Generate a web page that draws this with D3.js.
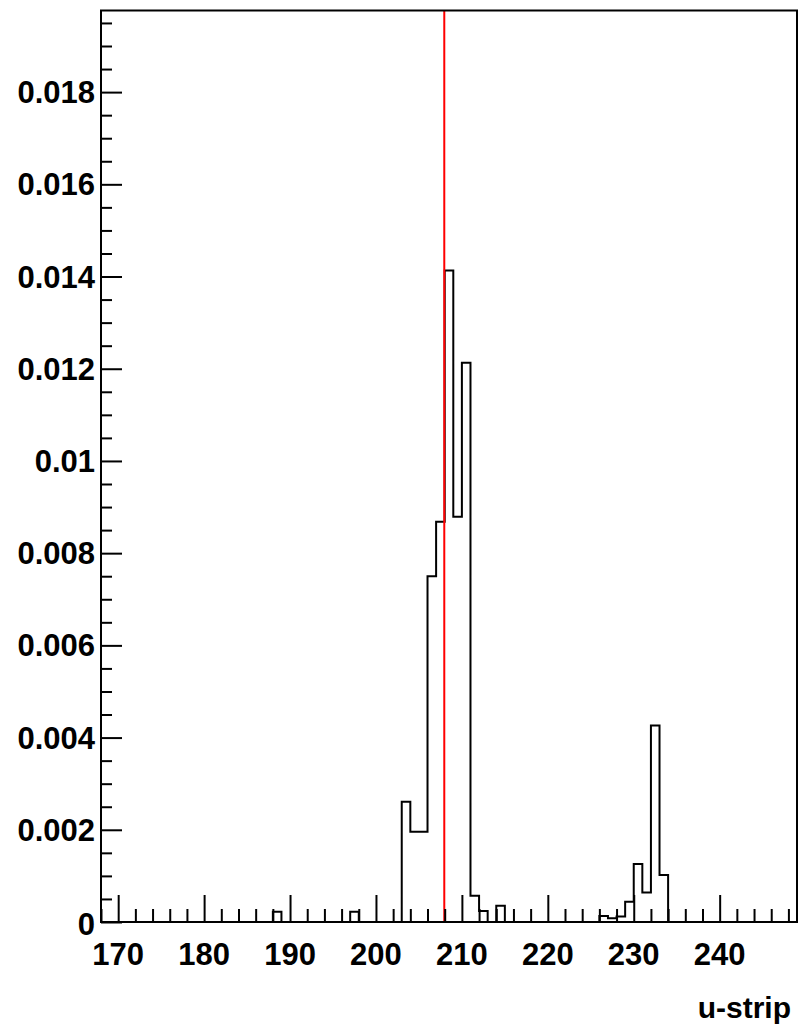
<!DOCTYPE html>
<html>
<head>
<meta charset="utf-8">
<script src="https://cdn.jsdelivr.net/npm/d3@7"></script>
<style>
  body { margin: 0; background: #fff; }
  svg { display: block; }
  text { font-family: "Liberation Sans", Arial, sans-serif; font-weight: bold; fill: #000; }
</style>
</head>
<body>
<div id="chart"></div>
<script>
// u-strip histogram, bins of width 1 from 168 to 249
const binLow = 168
const binHigh = 249
// filled bins: strip number -> content
const strips = [188, 197, 203, 204, 205, 206, 207, 208, 209, 210, 211, 212, 214,
                226, 227, 228, 229, 230, 231, 232, 233]
const counts = [0.00022, 0.00022, 0.00261, 0.00196, 0.00196, 0.00750, 0.00868, 0.01413,
                0.00879, 0.01213, 0.00057, 0.00024, 0.00035,
                0.00013, 0.00008, 0.00012, 0.00044, 0.00126, 0.00064, 0.00426, 0.00102]
const xTickLabels = [170, 180, 190, 200, 210, 220, 230, 240]
const yTickLabels = [0, 0.002, 0.004, 0.006, 0.008, 0.01, 0.012, 0.014, 0.016, 0.018]
const yMax = 0.01977
const markerX = 207.95
const xTitle = 'u-strip'

const width = 802
const height = 1029
const margin = { left: 101, right: 5, top: 10.5, bottom: 107 }

const svg = d3.select('#chart')
  .append('svg')
  .attr('width', width)
  .attr('height', height)

const x = d3.scaleLinear()
  .domain([binLow, binHigh])
  .range([margin.left, width - margin.right])

const y = d3.scaleLinear()
  .domain([0, yMax])
  .range([height - margin.bottom, margin.top])

// full bin contents (zeros for empty strips)
const bins = d3.range(binLow, binHigh).map(b => {
  const i = strips.indexOf(b)
  return { lo: b, hi: b + 1, v: i >= 0 ? counts[i] : 0 }
})

// Histogram outline as steps
const pts = [[binLow, 0]]
bins.forEach(b => {
  pts.push([b.lo, b.v])
  pts.push([b.hi, b.v])
})
pts.push([binHigh, 0])

const line = d3.line().x(d => x(d[0])).y(d => y(d[1]))

svg.append('path')
  .attr('d', line(pts))
  .attr('fill', 'none')
  .attr('stroke', '#000')
  .attr('stroke-width', 2)
  .attr('stroke-linejoin', 'miter')

// Red marker line
svg.append('line')
  .attr('x1', x(markerX))
  .attr('x2', x(markerX))
  .attr('y1', y(yMax))
  .attr('y2', y(0))
  .attr('stroke', '#ff0000')
  .attr('stroke-width', 2)

// X axis ticks (pointing up, inside frame)
const xMinor = d3.range(binLow, binHigh, 2)
const xAxis = d3.axisBottom(x)
  .tickValues(xMinor)
  .tickSize(0)
  .tickFormat('')
const gx = svg.append('g')
  .attr('transform', `translate(0,${y(0)})`)
  .call(xAxis)
gx.select('.domain').remove()
gx.selectAll('.tick line')
  .attr('y2', d => xTickLabels.includes(d) ? -27 : -13)
  .attr('stroke', '#000')
  .attr('stroke-width', 2)

svg.append('g')
  .selectAll('text')
  .data(xTickLabels)
  .join('text')
  .attr('x', d => x(d))
  .attr('y', 965)
  .attr('text-anchor', 'middle')
  .attr('font-size', 31)
  .text(d => d)

// Y axis ticks (pointing right, inside frame)
const yMinor = d3.range(0, yMax, 0.0005)
const gy = svg.append('g')
  .attr('transform', `translate(${margin.left},0)`)
  .call(d3.axisLeft(y).tickValues(yMinor).tickSize(0).tickFormat(''))
gy.select('.domain').remove()
gy.selectAll('.tick line')
  .attr('x2', (d, i) => i % 4 === 0 ? 21 : 11)
  .attr('stroke', '#000')
  .attr('stroke-width', 2)

svg.append('g')
  .selectAll('text')
  .data(yTickLabels)
  .join('text')
  .attr('x', 95)
  .attr('y', d => d === 0 ? 935 : y(d) + 11)
  .attr('text-anchor', 'end')
  .attr('font-size', 31)
  .text(d => d === 0 ? '0' : d3.format('')(+d.toFixed(3)))

// Frame: left and bottom axes, top and right borders
svg.append('rect')
  .attr('x', x(binLow))
  .attr('y', y(yMax))
  .attr('width', x(binHigh) - x(binLow))
  .attr('height', y(0) - y(yMax))
  .attr('fill', 'none')
  .attr('stroke', '#000')
  .attr('stroke-width', 2)

// Axis title
svg.append('text')
  .attr('x', 791)
  .attr('y', 1018)
  .attr('text-anchor', 'end')
  .attr('font-size', 30)
  .text(xTitle)
</script>
</body>
</html>
